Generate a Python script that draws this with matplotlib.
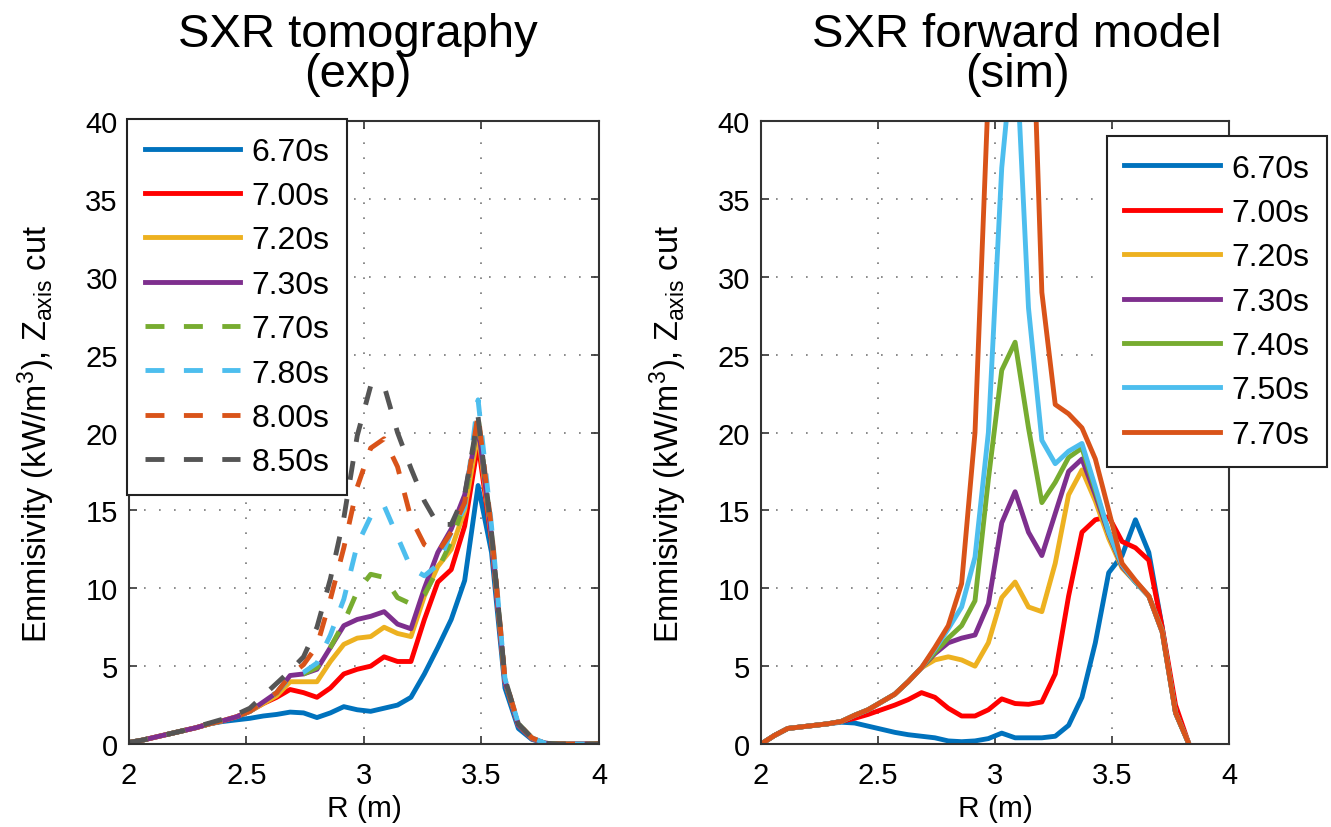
import numpy as np
import matplotlib
matplotlib.use("Agg")
import matplotlib.pyplot as plt

plt.rcParams["font.family"] = ["Liberation Sans", "DejaVu Sans"]
plt.rcParams["mathtext.default"] = "regular"

# Radial grid (m)
R = np.linspace(2, 4, 36)
R_sim = R[:33]

# Left panel: SXR tomography (exp), emissivity in kW/m^3
exp_labels = ["6.70s", "7.00s", "7.20s", "7.30s", "7.70s", "7.80s", "8.00s", "8.50s"]
exp_670 = [0.1, 0.25, 0.45, 0.65, 0.85, 1.05, 1.3, 1.45, 1.55, 1.65, 1.8, 1.9, 2.05, 2.0, 1.7, 2.0, 2.4, 2.2,
           2.1, 2.3, 2.5, 3.0, 4.5, 6.2, 8.0, 10.5, 16.6, 12.3, 3.6, 1.0, 0.3, 0.05, 0, 0, 0, 0]
exp_700 = [0.1, 0.25, 0.45, 0.65, 0.85, 1.05, 1.3, 1.5, 1.75, 2.1, 2.6, 3.0, 3.5, 3.3, 3.0, 3.6, 4.5, 4.8,
           5.0, 5.6, 5.3, 5.3, 8.0, 10.4, 11.2, 14.0, 19.3, 13.0, 4.0, 1.2, 0.35, 0.05, 0, 0, 0, 0]
exp_720 = [0.1, 0.25, 0.45, 0.65, 0.85, 1.05, 1.3, 1.5, 1.75, 2.1, 2.6, 3.1, 4.0, 4.0, 4.0, 5.3, 6.4, 6.8,
           6.9, 7.5, 7.1, 6.9, 9.5, 11.4, 12.5, 15.0, 20.0, 13.2, 4.0, 1.2, 0.35, 0.05, 0, 0, 0, 0]
exp_730 = [0.1, 0.25, 0.45, 0.65, 0.85, 1.05, 1.3, 1.5, 1.75, 2.1, 2.7, 3.3, 4.4, 4.5, 4.8, 6.2, 7.6, 8.0,
           8.2, 8.5, 7.7, 7.4, 10.0, 12.3, 13.8, 16.0, 20.5, 13.3, 4.0, 1.2, 0.35, 0.05, 0, 0, 0, 0]
exp_770 = [0.1, 0.25, 0.45, 0.65, 0.85, 1.05, 1.3, 1.5, 1.75, 2.1, 2.7, 3.3, 4.3, 4.5, 4.9, 6.2, 7.8, 9.8,
           10.9, 10.7, 9.4, 9.0, 9.6, 11.2, 13.0, 15.5, 21.0, 13.5, 4.1, 1.3, 0.4, 0.05, 0, 0, 0, 0]
exp_780 = [0.1, 0.25, 0.45, 0.65, 0.85, 1.05, 1.3, 1.5, 1.75, 2.1, 2.7, 3.3, 4.3, 4.6, 5.2, 7.0, 9.3, 12.8,
           14.6, 15.3, 13.3, 11.3, 10.8, 11.5, 13.6, 15.2, 22.1, 14.0, 4.2, 1.3, 0.4, 0.05, 0, 0, 0, 0]
exp_800 = [0.1, 0.25, 0.45, 0.65, 0.85, 1.05, 1.3, 1.5, 1.75, 2.1, 2.7, 3.3, 4.4, 5.1, 6.3, 9.3, 12.6, 16.5,
           19.0, 19.6, 17.8, 14.5, 12.8, 12.3, 13.6, 15.5, 21.2, 13.8, 4.2, 1.3, 0.4, 0.05, 0, 0, 0, 0]
exp_850 = [0.1, 0.25, 0.45, 0.65, 0.85, 1.1, 1.35, 1.6, 1.9, 2.3, 3.1, 3.9, 4.7, 5.6, 7.5, 10.6, 14.5, 19.8,
           23.0, 23.0, 20.0, 17.7, 15.6, 14.1, 14.1, 16.0, 21.0, 13.6, 4.2, 1.3, 0.4, 0.05, 0, 0, 0, 0]

# Right panel: SXR forward model (sim)
sim_labels = ["6.70s", "7.00s", "7.20s", "7.30s", "7.40s", "7.50s", "7.70s"]
sim_670 = [0, 0.55, 1.0, 1.1, 1.2, 1.3, 1.4, 1.35, 1.15, 0.95, 0.75, 0.6, 0.5, 0.4, 0.2, 0.15, 0.2,
           0.35, 0.7, 0.4, 0.4, 0.4, 0.5, 1.2, 3.0, 6.5, 11.0, 12.1, 14.4, 12.3, 7.5, 2.0, 0]
sim_700 = [0, 0.55, 1.0, 1.1, 1.2, 1.3, 1.45, 1.65, 1.9, 2.2, 2.5, 2.85, 3.3, 3.0, 2.3, 1.8, 1.8,
           2.2, 2.9, 2.6, 2.55, 2.7, 4.5, 9.5, 13.6, 14.4, 14.6, 13.0, 12.6, 11.8, 7.5, 2.5, 0]
sim_720 = [0, 0.55, 1.0, 1.1, 1.2, 1.3, 1.45, 1.85, 2.2, 2.7, 3.2, 4.0, 4.9, 5.4, 5.6, 5.4, 5.0,
           6.5, 9.4, 10.4, 8.8, 8.5, 11.6, 16.0, 17.6, 15.6, 13.2, 11.3, 10.4, 9.5, 7.3, 2.0, 0]
sim_730 = [0, 0.55, 1.0, 1.1, 1.2, 1.3, 1.45, 1.85, 2.2, 2.7, 3.2, 4.0, 4.9, 5.8, 6.5, 6.8, 7.0,
           9.0, 14.2, 16.2, 13.6, 12.1, 14.8, 17.5, 18.3, 16.0, 13.5, 11.4, 10.4, 9.5, 7.2, 2.0, 0]
sim_740 = [0, 0.55, 1.0, 1.1, 1.2, 1.3, 1.45, 1.85, 2.2, 2.7, 3.2, 4.0, 4.9, 5.9, 6.8, 7.6, 9.2,
           17.0, 24.0, 25.8, 20.3, 15.5, 16.8, 18.4, 19.0, 16.3, 13.6, 11.5, 10.4, 9.5, 7.2, 2.0, 0]
sim_750 = [0, 0.55, 1.0, 1.1, 1.2, 1.3, 1.45, 1.85, 2.2, 2.7, 3.2, 4.0, 4.9, 6.1, 7.4, 8.8, 12.0,
           20.0, 37.0, 46.0, 28.0, 19.5, 18.0, 18.8, 19.3, 16.5, 13.6, 11.5, 10.4, 9.5, 7.2, 2.0, 0]
sim_770 = [0, 0.55, 1.0, 1.1, 1.2, 1.3, 1.45, 1.85, 2.2, 2.7, 3.2, 4.0, 4.9, 6.2, 7.6, 10.3, 20.0,
           42.0, 55.0, 60.0, 55.0, 29.0, 21.8, 21.2, 20.3, 18.3, 15.0, 11.6, 10.5, 9.5, 7.2, 2.0, 0]

# MATLAB-ish colours
c_blue, c_red, c_yel, c_pur = "#0072BD", "#FF0000", "#EDB120", "#7E2F8E"
c_grn, c_lblue, c_org, c_gray = "#77AC30", "#4DBEEE", "#D95319", "#555555"

fig = plt.figure(figsize=(13.31, 8.28), dpi=100)
ax1 = fig.add_axes([0.0969, 0.1002, 0.3531, 0.7524])
ax2 = fig.add_axes([0.5718, 0.1002, 0.3516, 0.7524])

lw = 3.5
dash = (3.9, 4.0)
ax1.plot(R, exp_670, color=c_blue, lw=lw, label=exp_labels[0])
ax1.plot(R, exp_700, color=c_red, lw=lw, label=exp_labels[1])
ax1.plot(R, exp_720, color=c_yel, lw=lw, label=exp_labels[2])
ax1.plot(R, exp_730, color=c_pur, lw=lw, label=exp_labels[3])
ax1.plot(R, exp_770, color=c_grn, lw=lw, dashes=dash, label=exp_labels[4])
ax1.plot(R, exp_780, color=c_lblue, lw=lw, dashes=dash, label=exp_labels[5])
ax1.plot(R, exp_800, color=c_org, lw=lw, dashes=dash, label=exp_labels[6])
ax1.plot(R, exp_850, color=c_gray, lw=lw, dashes=dash, label=exp_labels[7])

sim_series = [sim_670, sim_700, sim_720, sim_730, sim_740, sim_750, sim_770]
sim_colors = [c_blue, c_red, c_yel, c_pur, c_grn, c_lblue, c_org]
for y, c, lab in zip(sim_series, sim_colors, sim_labels):
    ax2.plot(R_sim, y, color=c, lw=lw, label=lab)

for ax in (ax1, ax2):
    ax.set_xlim(2, 4)
    ax.set_ylim(0, 40)
    ax.set_xticks([2, 2.5, 3, 3.5, 4])
    ax.set_xticklabels(["2", "2.5", "3", "3.5", "4"])
    ax.set_yticks(range(0, 41, 5))
    ax.tick_params(direction="in", top=True, right=True, labelsize=21, length=6,
                   width=1.2, color="#333333", pad=8)
    ax.tick_params(axis="x", pad=12)
    ax.grid(True, linestyle=(0, (1, 8)), color="#777777", linewidth=1.2)
    for s in ax.spines.values():
        s.set_color("#333333")
        s.set_linewidth(1.5)
    ax.set_xlabel("R (m)", fontsize=21.5)
    ax.set_ylabel(r"Emmisivity (kW/m$^3$), Z$_{axis}$ cut", fontsize=23.5)
    ax.xaxis.set_label_coords(0.5, -0.08)
    ax.yaxis.set_label_coords(-0.153, 0.5)

ax1.set_title("SXR tomography\n(exp)", fontsize=34, x=0.487, pad=25, linespacing=0.9)
ax2.set_title("SXR forward model\n(sim)", fontsize=34, x=0.547, pad=25, linespacing=0.9)

leg_kw = dict(borderaxespad=0, fontsize=23, handlelength=3.0, handletextpad=0.35,
              labelspacing=0.45, fancybox=False, framealpha=1, edgecolor="#222222",
              borderpad=0.55)
leg1 = ax1.legend(loc="upper left", bbox_to_anchor=(-0.004, 1.003), **leg_kw)
leg2 = ax2.legend(loc="upper right", bbox_to_anchor=(1.209, 0.976), **leg_kw)
for leg in (leg1, leg2):
    leg.get_frame().set_linewidth(1.5)
    leg.set_zorder(5)

fig.savefig("out.png", dpi=100)
